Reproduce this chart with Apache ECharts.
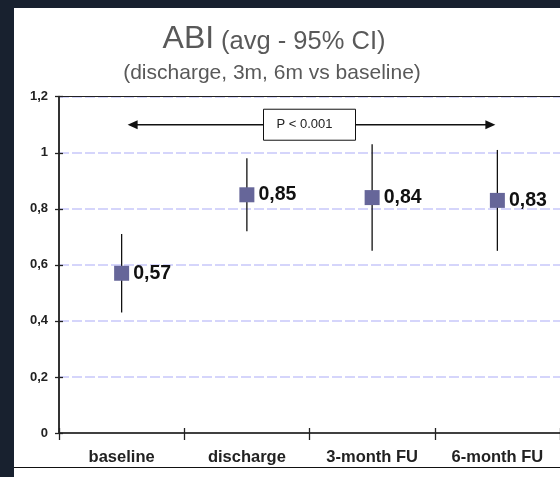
<!DOCTYPE html>
<html><head><meta charset="utf-8">
<script src="https://cdn.jsdelivr.net/npm/echarts@6/dist/echarts.min.js"></script>
<style>
html,body{margin:0;padding:0;background:#18212f;width:560px;height:477px;overflow:hidden}
#c{position:absolute;left:14px;top:8px;width:546px;height:469px;}
</style></head>
<body><div id="c"></div>
<script>
const categories = ['baseline', 'discharge', '3-month FU', '6-month FU'];
const means = [0.57, 0.85, 0.84, 0.83];
const ciLow = [0.43, 0.72, 0.65, 0.65];
const ciHigh = [0.71, 0.98, 1.03, 1.01];
const yTickValues = [0, 0.2, 0.4, 0.6, 0.8, 1, 1.2];
const yTickLabels = ['0', '0,2', '0,4', '0,6', '0,8', '1', '1,2'];
const pLabel = 'P < 0.001';
const pBracketLevel = 1.1;

const FONT = 'Liberation Sans, Arial, Helvetica, sans-serif';
const chart = echarts.init(document.getElementById('c'));

function yLabel(v) {
  const i = yTickValues.findIndex(t => Math.abs(t - v) < 1e-6);
  return i >= 0 ? yTickLabels[i] : '';
}

const option = {
  backgroundColor: '#ffffff',
  animation: false,
  title: [
    {
      text: '{a|ABI} {b|(avg - 95% CI)}',
      left: 255, top: 4, textAlign: 'center',
      textStyle: {
        fontFamily: FONT, fontSize: 25, color: '#595959', fontWeight: 'normal',
        rich: {
          a: { fontFamily: FONT, fontSize: 32, color: '#595959', lineHeight: 38, verticalAlign: 'bottom' },
          b: { fontFamily: FONT, fontSize: 25.5, color: '#595959', lineHeight: 34, verticalAlign: 'bottom' }
        }
      }
    },
    {
      text: '(discharge, 3m, 6m vs baseline)',
      left: 253, top: 48, textAlign: 'center',
      textStyle: { fontFamily: FONT, fontSize: 21, color: '#595959', fontWeight: 'normal', lineHeight: 24 }
    }
  ],
  grid: { left: 45, top: 88.7, width: 505, height: 336.3, containLabel: false },
  xAxis: [
    {
      type: 'category', data: categories, position: 'bottom',
      axisLine: { lineStyle: { color: '#404040', width: 2 } },
      axisTick: { show: true, inside: false, length: 7, lineStyle: { color: '#222', width: 1.3 } },
      axisLabel: { fontFamily: FONT, fontSize: 16.5, fontWeight: 'bold', color: '#222', margin: 16 },
      splitLine: { show: false }
    },
    {
      type: 'category', data: categories, position: 'bottom',
      axisLine: { show: false },
      axisTick: { show: true, inside: true, length: 5, lineStyle: { color: '#222', width: 1.3 } },
      axisLabel: { show: false }, splitLine: { show: false }
    },
    {
      type: 'category', data: categories, position: 'top',
      axisLine: { show: true, lineStyle: { color: '#222', width: 1 } },
      axisTick: { show: false }, axisLabel: { show: false }, splitLine: { show: false }
    }
  ],
  yAxis: [
    {
      type: 'value', min: 0, max: 1.2, interval: 0.2, position: 'left',
      axisLine: { show: true, lineStyle: { color: '#333', width: 2 } },
      axisTick: { show: true, inside: false, length: 4, lineStyle: { color: '#222', width: 1.3 } },
      axisLabel: { fontFamily: FONT, fontSize: 13, fontWeight: 'bold', color: '#222', margin: 11, formatter: yLabel },
      splitLine: { show: true, lineStyle: { color: '#c8c8fa', width: 1.6, type: [10, 3] } }
    },
    {
      type: 'value', min: 0, max: 1.2, interval: 0.2, position: 'left',
      axisLine: { show: false },
      axisTick: { show: true, inside: true, length: 4, lineStyle: { color: '#222', width: 1.3 } },
      axisLabel: { show: false }, splitLine: { show: false }
    }
  ],
  series: [
    {
      type: 'custom', xAxisIndex: 0, yAxisIndex: 0, z: 3,
      data: categories.map((c, i) => [i, ciLow[i], ciHigh[i]]),
      encode: { x: 0, y: [1, 2] },
      renderItem: function (params, api) {
        const p1 = api.coord([api.value(0), api.value(1)]);
        const p2 = api.coord([api.value(0), api.value(2)]);
        return { type: 'line', shape: { x1: p1[0], y1: p1[1], x2: p2[0], y2: p2[1] },
                 style: { stroke: '#111', lineWidth: 1.3 } };
      }
    },
    {
      type: 'scatter', xAxisIndex: 0, yAxisIndex: 0, z: 4,
      data: means.map((m, i) => [i, m]),
      symbol: 'rect', symbolSize: 15,
      itemStyle: { color: '#666699', opacity: 1 },
      emphasis: { disabled: true },
      label: {
        show: true, position: 'right', distance: 4,
        fontFamily: FONT, fontSize: 19.5, fontWeight: 'bold', color: '#111',
        formatter: p => String(p.value[1]).replace('.', ',')
      }
    }
  ]
};
chart.setOption(option);

// annotation bracket positioned through the axes
const c0 = chart.convertToPixel({ xAxisIndex: 0, yAxisIndex: 0 }, [0, pBracketLevel]);
const c1 = chart.convertToPixel({ xAxisIndex: 0, yAxisIndex: 0 }, [1, pBracketLevel]);
const c2 = chart.convertToPixel({ xAxisIndex: 0, yAxisIndex: 0 }, [2, pBracketLevel]);
const c3 = chart.convertToPixel({ xAxisIndex: 0, yAxisIndex: 0 }, [3, pBracketLevel]);
const ay = c0[1];
const xl = c0[0] + 6, xr = c3[0] - 2;
const bx = (c1[0] + c2[0]) / 2;
const bw = 92, bh = 31;
chart.setOption({
  graphic: {
    elements: [
      { type: 'line', z: 50, shape: { x1: xl + 9, y1: ay, x2: xr - 9, y2: ay }, style: { stroke: '#111', lineWidth: 1.5 } },
      { type: 'polygon', z: 50, shape: { points: [[xl, ay], [xl + 10, ay - 4.5], [xl + 10, ay + 4.5]] }, style: { fill: '#111' } },
      { type: 'polygon', z: 50, shape: { points: [[xr, ay], [xr - 10, ay - 4.5], [xr - 10, ay + 4.5]] }, style: { fill: '#111' } },
      { type: 'rect', z: 51, shape: { x: bx - bw / 2, y: ay - bh / 2, width: bw, height: bh }, style: { fill: '#fff', stroke: '#111', lineWidth: 1 } },
      { type: 'text', z: 52, x: bx - bw / 2 + 13, y: ay, style: { text: pLabel, fontFamily: FONT, fontSize: 13, fill: '#222', align: 'left', verticalAlign: 'middle' } },
      { type: 'line', z: 50, shape: { x1: 0, y1: 459.5, x2: 546, y2: 459.5 }, style: { stroke: '#111', lineWidth: 1 } }
    ]
  }
});
</script>
</body></html>
